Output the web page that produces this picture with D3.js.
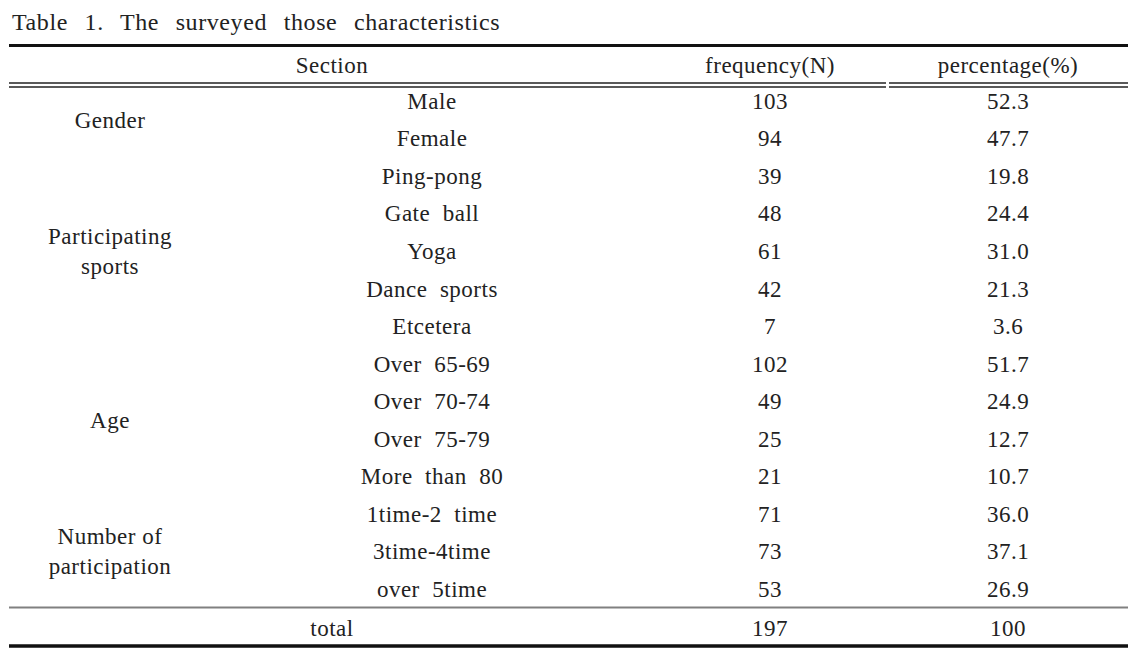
<!DOCTYPE html>
<html>
<head>
<meta charset="utf-8">
<script src="https://cdn.jsdelivr.net/npm/d3@7"></script>
<style>
  body { margin: 0; background: #fff; }
  text { font-family: "Liberation Serif", "DejaVu Serif", serif; fill: #222; letter-spacing: 0.5px; }
</style>
</head>
<body>
<div id="table"></div>
<script>
// table content
const title = "Table 1. The surveyed those characteristics";
const headers = ["Section", "frequency(N)", "percentage(%)"];
const groups = [
  {label: ["Gender"], from: 0, to: 1},
  {label: ["Participating", "sports"], from: 2, to: 6},
  {label: ["Age"], from: 7, to: 10},
  {label: ["Number of", "participation"], from: 11, to: 13}
];
const items = ["Male", "Female", "Ping-pong", "Gate  ball", "Yoga", "Dance  sports", "Etcetera",
  "Over  65-69", "Over  70-74", "Over  75-79", "More  than  80",
  "1time-2  time", "3time-4time", "over  5time"];
const frequency = [103, 94, 39, 48, 61, 42, 7, 102, 49, 25, 21, 71, 73, 53];
const percentage = ["52.3", "47.7", "19.8", "24.4", "31.0", "21.3", "3.6",
  "51.7", "24.9", "12.7", "10.7", "36.0", "37.1", "26.9"];
const total = ["total", "197", "100"];

const W = 1148, H = 649;
const left = 9, right = 1128;
const fs = 23;

const svg = d3.select("#table")
  .append("svg")
    .attr("width", W)
    .attr("height", H);

// row scale
const y = d3.scaleBand()
  .domain(d3.range(items.length))
  .range([82, 607.5]);

// column centres
const col = {group: 110, item: 432, freq: 770, pct: 1008, section: 332};

// title
svg.append("text")
  .attr("x", 12)
  .attr("y", 22)
  .attr("dy", "0.35em")
  .style("font-size", "24px")
  .style("letter-spacing", "0.6px")
  .style("word-spacing", "10px")
  .text(title);

// rules
const rule = (y0, w, c, x0 = left, x1 = right) => svg.append("line")
  .attr("x1", x0).attr("x2", x1)
  .attr("y1", y0).attr("y2", y0)
  .attr("stroke", c)
  .attr("stroke-width", w);

rule(45.5, 3, "#111");
rule(83, 1.4, "#222", left, 886);
rule(83, 1.4, "#222", 889, right);
rule(87, 1.4, "#222", left, 886);
rule(87, 1.4, "#222", 889, right);
rule(607.5, 2, "#808080");
rule(646, 3.5, "#111");

// header
svg.selectAll(".hdr")
  .data(headers)
  .join("text")
    .attr("class", "hdr")
    .attr("x", (d, i) => [col.section, col.freq, col.pct][i])
    .attr("y", 65)
    .attr("dy", "0.35em")
    .attr("text-anchor", "middle")
    .style("font-size", fs + "px")
    .text(d => d);

// group labels
groups.forEach(g => {
  const cy = (y(g.from) + y(g.to) + y.bandwidth()) / 2;
  const n = g.label.length;
  svg.append("g")
    .selectAll("text")
    .data(g.label)
    .join("text")
      .attr("x", col.group)
      .attr("y", (d, i) => cy + (i - (n - 1) / 2) * 30.5)
      .attr("dy", "0.35em")
      .attr("text-anchor", "middle")
      .style("font-size", fs + "px")
      .style("white-space", "pre")
      .text(d => d);
});

// body rows
const rows = svg.append("g")
  .selectAll("g")
  .data(d3.range(items.length))
  .join("g")
    .attr("transform", i => `translate(0,${y(i) + y.bandwidth() / 2})`);

rows.append("text")
  .attr("x", col.item)
  .attr("dy", "0.35em")
  .attr("text-anchor", "middle")
  .style("font-size", fs + "px")
  .style("white-space", "pre")
  .text(i => items[i]);

rows.append("text")
  .attr("x", col.freq)
  .attr("dy", "0.35em")
  .attr("text-anchor", "middle")
  .style("font-size", fs + "px")
  .text(i => frequency[i]);

rows.append("text")
  .attr("x", col.pct)
  .attr("dy", "0.35em")
  .attr("text-anchor", "middle")
  .style("font-size", fs + "px")
  .text(i => percentage[i]);

// total row
svg.selectAll(".tot")
  .data(total)
  .join("text")
    .attr("class", "tot")
    .attr("x", (d, i) => [col.section, col.freq, col.pct][i])
    .attr("y", 628)
    .attr("dy", "0.35em")
    .attr("text-anchor", "middle")
    .style("font-size", fs + "px")
    .text(d => d);
</script>
</body>
</html>
